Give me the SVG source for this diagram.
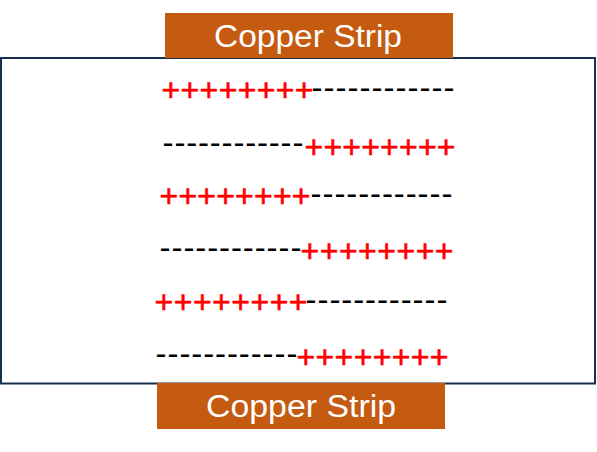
<svg xmlns="http://www.w3.org/2000/svg" width="597" height="452" viewBox="0 0 597 452">
<style>
.strip{fill:#C55A11}
.lbl{font-family:"Liberation Sans",Arial,sans-serif;font-size:31px;fill:#fff;text-anchor:middle}
.p{font-family:"Liberation Sans",Arial,sans-serif;font-size:32px;fill:#FF0000;stroke:#FF0000;stroke-width:0.6}
.m{font-family:"Liberation Sans",Arial,sans-serif;font-size:33px;fill:#000}
</style>
<rect width="597" height="452" fill="#fff"/>
<g id="box">
<rect x="1" y="58" width="594" height="325.5" fill="none" stroke="#17304F" stroke-width="2"/>
</g>
<g id="strip-top">
<rect class="strip" x="165" y="13" width="288" height="45"/>
<text class="lbl" x="308" y="47" textLength="188" lengthAdjust="spacingAndGlyphs">Copper Strip</text>
</g>
<g id="strip-bottom">
<rect class="strip" x="157" y="383" width="288" height="46"/>
<text class="lbl" x="301" y="417" textLength="190" lengthAdjust="spacingAndGlyphs">Copper Strip</text>
</g>
<g id="charges">
<text class="p" x="161.5" y="100.7" textLength="152" lengthAdjust="spacing">++++++++</text>
<text class="m" x="311.6" y="98.8" textLength="142.8" lengthAdjust="spacing">------------</text>

<text class="m" x="162.6" y="154" textLength="140.8" lengthAdjust="spacing">------------</text>
<text class="p" x="304.5" y="158.1" textLength="151" lengthAdjust="spacing">++++++++</text>

<text class="p" x="159.5" y="207.4" textLength="151" lengthAdjust="spacing">++++++++</text>
<text class="m" x="310.6" y="204.8" textLength="141.8" lengthAdjust="spacing">------------</text>

<text class="m" x="159.6" y="258.8" textLength="141.8" lengthAdjust="spacing">------------</text>
<text class="p" x="300.5" y="262.4" textLength="153" lengthAdjust="spacing">++++++++</text>

<text class="p" x="154.5" y="313.1" textLength="153" lengthAdjust="spacing">++++++++</text>
<text class="m" x="305.6" y="310.5" textLength="141.8" lengthAdjust="spacing">------------</text>

<text class="m" x="155.6" y="365.3" textLength="141.8" lengthAdjust="spacing">------------</text>
<text class="p" x="296.5" y="368.4" textLength="152" lengthAdjust="spacing">++++++++</text>
</g>
</svg>
